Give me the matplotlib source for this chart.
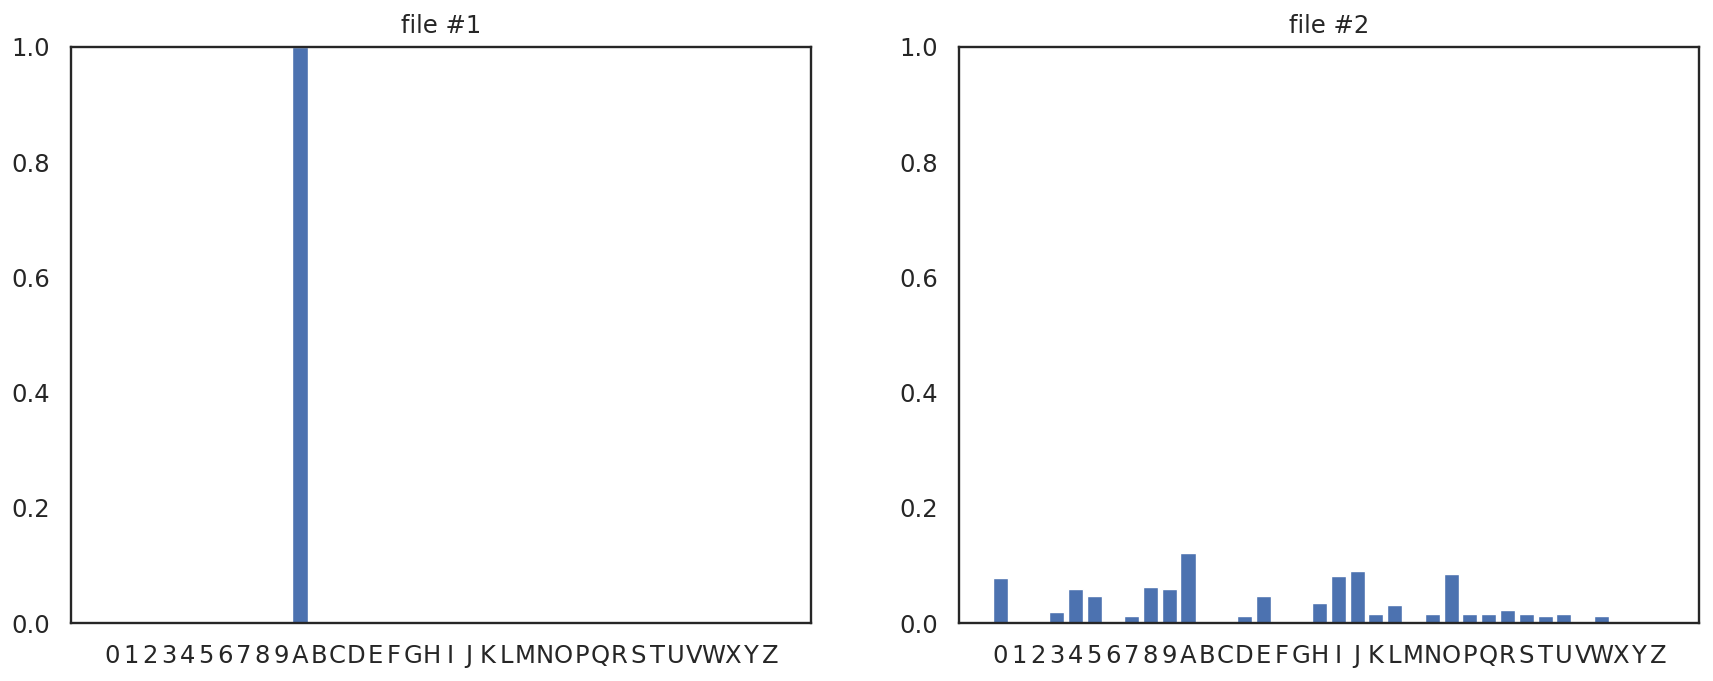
import matplotlib
matplotlib.use("Agg")
import matplotlib.pyplot as plt
import seaborn as sns

chars = list("0123456789ABCDEFGHIJKLMNOPQRSTUVWXYZ")

# relative frequency of each character
file1 = [0, 0, 0, 0, 0, 0, 0, 0, 0, 0, 1.0, 0, 0, 0, 0, 0, 0, 0, 0, 0, 0, 0, 0, 0, 0, 0, 0, 0, 0, 0, 0, 0, 0, 0, 0, 0]
file2 = [0.078, 0, 0, 0.019, 0.059, 0.047, 0, 0.012, 0.062, 0.059,
         0.121, 0, 0, 0.012, 0.047, 0, 0, 0.035, 0.081, 0.090,
         0.015, 0.031, 0, 0.015, 0.085, 0.015, 0.015, 0.023, 0.015, 0.012,
         0.015, 0, 0.012, 0, 0, 0]

titles = ["file #1", "file #2"]

sns.set_style("white")
plt.rcParams["xtick.labelsize"] = 17.5
plt.rcParams["ytick.labelsize"] = 17.5
plt.rcParams["axes.titlesize"] = 17.5
plt.rcParams["axes.titlepad"] = 10
plt.rcParams["axes.linewidth"] = 1.7
plt.rcParams["xtick.major.size"] = 0
plt.rcParams["ytick.major.size"] = 0
plt.rcParams["xtick.major.pad"] = 15
plt.rcParams["ytick.major.pad"] = 15

fig, axes = plt.subplots(1, 2, figsize=(17.13, 6.81), dpi=100)
fig.subplots_adjust(left=0.0414, right=0.9918, top=0.931, bottom=0.085, wspace=0.2)

for ax, vals, t in zip(axes, [file1, file2], titles):
    ax.bar(range(len(chars)), vals, color="#4C72B0")
    ax.set_xticks(range(len(chars)))
    ax.set_xticklabels(chars)
    ax.set_ylim(0, 1)
    ax.set_title(t)

fig.savefig("out.png")
